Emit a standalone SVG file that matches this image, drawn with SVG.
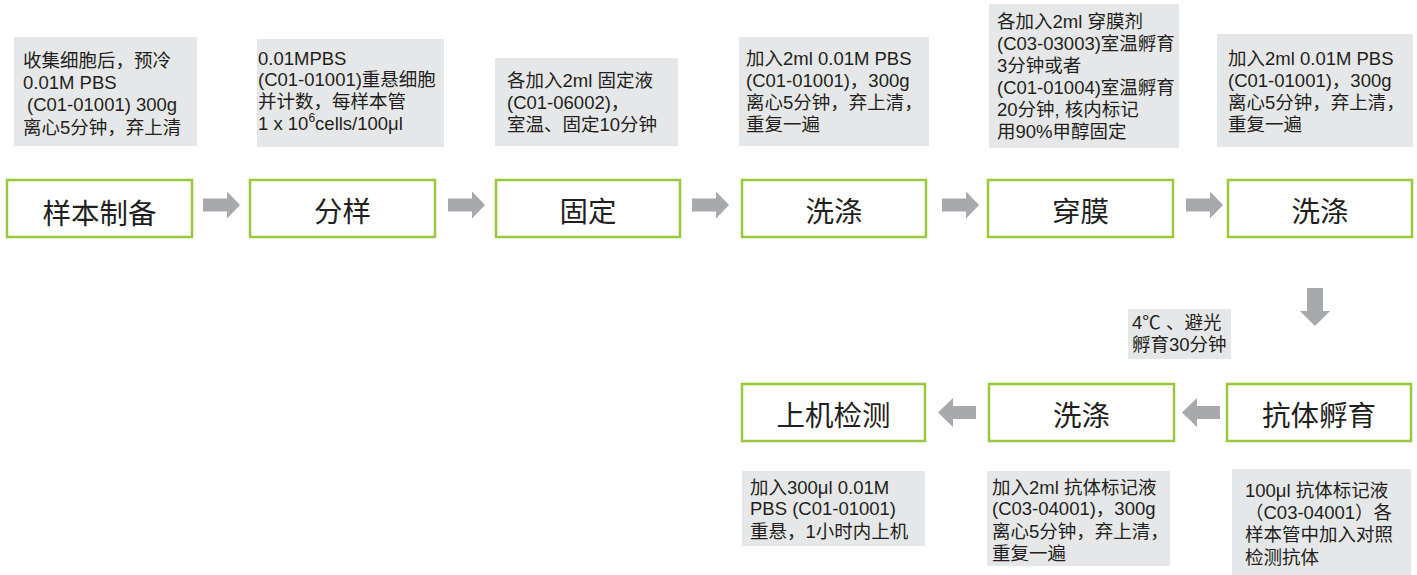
<svg xmlns="http://www.w3.org/2000/svg" xmlns:xlink="http://www.w3.org/1999/xlink" width="1417" height="575" viewBox="0 0 1417 575">
<style>
.node{fill:#ffffff;stroke:#98c93c;stroke-width:2.5}
.lbl{font-family:"Noto Sans CJK SC","Liberation Sans",sans-serif;font-size:28.5px;fill:#231f20;text-anchor:middle;dominant-baseline:central}
.note{fill:#e6e7e8}
.nt{font-family:"Liberation Sans","Noto Sans CJK SC",sans-serif;font-size:18.5px;fill:#231f20}
.arr{fill:#a7a9ac}
</style>
<defs>
<polygon id="arrowR" points="0,-6.5 24,-6.5 24,-13.5 37,0 24,13.5 24,6.5 0,6.5"/>
</defs>
<rect width="1417" height="575" fill="#ffffff"/>

<g id="connectors">
<use xlink:href="#arrowR" href="#arrowR" class="arr" transform="translate(203,205)"/>
<use xlink:href="#arrowR" href="#arrowR" class="arr" transform="translate(448,205)"/>
<use xlink:href="#arrowR" href="#arrowR" class="arr" transform="translate(692,205)"/>
<use xlink:href="#arrowR" href="#arrowR" class="arr" transform="translate(942,205)"/>
<use xlink:href="#arrowR" href="#arrowR" class="arr" transform="translate(1186,205)"/>
<polygon class="arr" points="1307,288 1323,288 1323,311 1330,311 1315,326 1300,311 1307,311"/>
<polygon class="arr" points="1220,406 1197,406 1197,398 1182,412.5 1197,427 1197,419 1220,419"/>
<polygon class="arr" points="976,406 953,406 953,398 938,412.5 953,427 953,419 976,419"/>
</g>

<g id="n1"><rect class="node" x="7" y="180" width="185" height="57"/><text class="lbl" x="99.5" y="211">样本制备</text></g>
<g id="n2"><rect class="node" x="250" y="180" width="185" height="57"/><text class="lbl" x="342.5" y="209">分样</text></g>
<g id="n3"><rect class="node" x="496" y="180" width="184" height="57"/><text class="lbl" x="588" y="209">固定</text></g>
<g id="n4"><rect class="node" x="742" y="180" width="184" height="57"/><text class="lbl" x="834" y="209">洗涤</text></g>
<g id="n5"><rect class="node" x="988" y="180" width="185" height="57"/><text class="lbl" x="1080.5" y="209">穿膜</text></g>
<g id="n6"><rect class="node" x="1228" y="180" width="184" height="57"/><text class="lbl" x="1320" y="209">洗涤</text></g>
<g id="n7"><rect class="node" x="1227" y="384" width="184" height="57"/><text class="lbl" x="1319" y="413">抗体孵育</text></g>
<g id="n8"><rect class="node" x="989" y="384" width="185" height="57"/><text class="lbl" x="1081.5" y="413">洗涤</text></g>
<g id="n9"><rect class="node" x="742" y="384" width="183" height="57"/><text class="lbl" x="833.5" y="413">上机检测</text></g>

<g id="note1"><rect class="note" x="14" y="37" width="183" height="109"/>
<text class="nt"><tspan x="23" y="66.5">收集细胞后，预冷</tspan><tspan x="23" y="89">0.01M PBS</tspan><tspan x="27" y="111">(C01-01001) 300g</tspan><tspan x="23" y="133.5">离心5分钟，弃上清</tspan></text></g>

<g id="note2"><rect class="note" x="257" y="39" width="187" height="108"/>
<text class="nt"><tspan x="258" y="64.5">0.01MPBS</tspan><tspan x="258" y="86">(C01-01001)重悬细胞</tspan><tspan x="258" y="108">并计数，每样本管</tspan><tspan x="258" y="130">1 x 10<tspan font-size="12" dy="-8">6</tspan><tspan dy="8">cells/100μl</tspan></tspan></text></g>

<g id="note3"><rect class="note" x="495" y="58" width="183" height="88"/>
<text class="nt"><tspan x="507" y="86.5">各加入2ml 固定液</tspan><tspan x="507" y="108.5">(C01-06002)，</tspan><tspan x="507" y="130.5">室温、固定10分钟</tspan></text></g>

<g id="note4"><rect class="note" x="739" y="37" width="190" height="109"/>
<text class="nt"><tspan x="746" y="64.5">加入2ml 0.01M PBS</tspan><tspan x="746" y="86.5">(C01-01001)，300g</tspan><tspan x="746" y="109">离心5分钟，弃上清，</tspan><tspan x="746" y="131">重复一遍</tspan></text></g>

<g id="note5"><rect class="note" x="989" y="4" width="190" height="144"/>
<text class="nt"><tspan x="997" y="28">各加入2ml 穿膜剂</tspan><tspan x="997" y="50">(C03-03003)室温孵育</tspan><tspan x="997" y="72">3分钟或者</tspan><tspan x="997" y="94">(C01-01004)室温孵育</tspan><tspan x="997" y="116">20分钟, 核内标记</tspan><tspan x="997" y="138">用90%甲醇固定</tspan></text></g>

<g id="note6"><rect class="note" x="1217" y="34" width="196" height="113"/>
<text class="nt"><tspan x="1228" y="64.5">加入2ml 0.01M PBS</tspan><tspan x="1228" y="87">(C01-01001)，300g</tspan><tspan x="1228" y="109">离心5分钟，弃上清，</tspan><tspan x="1228" y="131">重复一遍</tspan></text></g>

<g id="note7"><rect class="note" x="1128" y="309" width="103" height="50"/>
<text class="nt"><tspan x="1132" y="328.5">4℃ 、避光</tspan><tspan x="1132" y="350.5">孵育30分钟</tspan></text></g>

<g id="note8"><rect class="note" x="1232" y="469" width="179" height="106"/>
<text class="nt"><tspan x="1245" y="496.5">100μl 抗体标记液</tspan><tspan x="1245" y="518.5">（C03-04001）各</tspan><tspan x="1245" y="541">样本管中加入对照</tspan><tspan x="1245" y="563.5">检测抗体</tspan></text></g>

<g id="note9"><rect class="note" x="987" y="471" width="183" height="95"/>
<text class="nt"><tspan x="992" y="493.5">加入2ml 抗体标记液</tspan><tspan x="992" y="515">(C03-04001)，300g</tspan><tspan x="992" y="537.5">离心5分钟，弃上清，</tspan><tspan x="992" y="559.5">重复一遍</tspan></text></g>

<g id="note10"><rect class="note" x="742" y="471" width="183" height="75"/>
<text class="nt"><tspan x="750" y="493.5">加入300μl 0.01M</tspan><tspan x="750" y="515">PBS (C01-01001)</tspan><tspan x="750" y="537.5">重悬，1小时内上机</tspan></text></g>
</svg>
